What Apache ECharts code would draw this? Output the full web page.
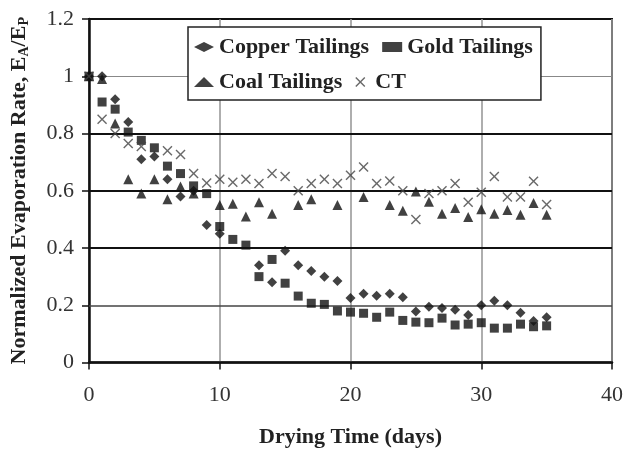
<!DOCTYPE html>
<html>
<head>
<meta charset="utf-8">
<script src="https://cdn.jsdelivr.net/npm/echarts@6/dist/echarts.min.js"></script>
<style>
html,body{margin:0;padding:0;background:#fff;}
#chart{width:624px;height:450px;}
</style>
</head>
<body>
<div id="chart"></div>
<script>
// ---- data ----
const days = [0,1,2,3,4,5,6,7,8,9,10,11,12,13,14,15,16,17,18,19,20,21,22,23,24,25,26,27,28,29,30,31,32,33,34,35];
const copper = [1.00,1.00,0.92,0.84,0.71,0.72,0.64,0.58,0.60,0.48,0.45,null,null,0.34,0.28,0.39,0.34,0.32,0.30,0.285,0.225,0.24,0.233,0.24,0.228,0.178,0.195,0.19,0.184,0.166,0.20,0.216,0.20,0.174,0.145,0.158];
const gold = [1.00,0.91,0.885,0.805,0.776,0.75,0.686,0.66,0.617,0.59,0.475,0.43,0.41,0.30,0.36,0.277,0.232,0.207,0.203,0.18,0.176,0.172,0.158,0.176,0.147,0.141,0.139,0.155,0.131,0.134,0.139,0.12,0.12,0.134,0.125,0.128];
const coal = [1.00,0.99,0.835,0.64,0.59,0.64,0.57,0.615,0.59,null,0.55,0.555,0.51,0.56,0.52,null,0.55,0.57,null,0.55,null,0.578,null,0.55,0.53,0.597,0.562,0.52,0.54,0.508,0.535,0.52,0.533,0.516,0.557,0.516];
const ct = [1.00,0.85,0.80,0.765,0.755,null,0.74,0.727,0.66,0.627,0.64,0.63,0.64,0.625,0.66,0.65,0.60,0.625,0.64,0.625,0.654,0.683,0.625,0.634,0.60,0.50,0.59,0.60,0.625,0.56,0.595,0.65,0.578,0.578,0.633,0.552];
const seriesNames = ['Copper Tailings','Gold Tailings','Coal Tailings','CT'];
const xTicks = [0,10,20,30,40];
const yTicks = [0,0.2,0.4,0.6,0.8,1.0,1.2];
const xTitle = 'Drying Time (days)';

const pairs = (vals) => days.map((d,i)=>[d, vals[i]]).filter(p => p[1] !== null);
const serif = "'Liberation Serif','Times New Roman',serif";
const crossPath = 'path://M0,1 L1,0 L5,4 L9,0 L10,1 L6,5 L10,9 L9,10 L5,6 L1,10 L0,9 L4,5 Z';

const hStyles = {
  0.2: {color:'#444', width:1.5},
  0.4: {color:'#111', width:2.2},
  0.6: {color:'#111', width:2.2},
  0.8: {color:'#111', width:2.2},
  1.0: {color:'#888', width:1.2}
};
const hLines = yTicks.filter(v => v > 0 && v < 1.2).map(v => ({yAxis: v, lineStyle: Object.assign({type:'solid'}, hStyles[v])}));

const chart = echarts.init(document.getElementById('chart'), null, {renderer:'canvas'});
chart.setOption({
  animation: false,
  backgroundColor: '#fff',
  grid: {left: 89, right: 12, top: 19, bottom: 87.5, containLabel: false, outerBoundsMode: 'none',
         show: true, borderColor: '#111', borderWidth: 2, backgroundColor: 'transparent'},
  legend: {
    left: 188, top: 27, width: 360,
    orient: 'horizontal',
    itemWidth: 20, itemHeight: 10, itemGap: 13,
    padding: [9, 8, 7, 6],
    borderColor: '#222', borderWidth: 1.5, backgroundColor: '#fff',
    selectedMode: false,
    textStyle: {fontFamily: serif, fontWeight: 'bold', fontSize: 22, color: '#222'},
    data: [
      {name: seriesNames[0], textStyle: {width: 147}},
      {name: seriesNames[1]},
      {name: seriesNames[2], textStyle: {width: 147}},
      {name: seriesNames[3]}
    ]
  },
  xAxis: {
    type: 'value', min: xTicks[0], max: xTicks[xTicks.length-1], interval: 10,
    name: xTitle, nameLocation: 'middle', nameGap: 64,
    nameTextStyle: {fontFamily: serif, fontWeight: 'bold', fontSize: 22, color: '#222'},
    axisLine: {lineStyle: {color: '#111', width: 2.5}},
    axisTick: {show: true, length: 7, lineStyle: {color: '#111', width: 1.5}},
    axisLabel: {fontFamily: serif, fontSize: 22, color: '#333', margin: 22},
    splitLine: {show: true, lineStyle: {color: '#9a9a9a', width: 1.6}}
  },
  yAxis: {
    type: 'value', min: 0, max: 1.2, interval: 0.2,
    name: 'Normalized Evaporation Rate, E{s|A}/E{s|P}', nameLocation: 'middle', nameGap: 58,
    nameTextStyle: {fontFamily: serif, fontWeight: 'bold', fontSize: 22, color: '#222',
      rich: {s: {fontFamily: serif, fontWeight: 'bold', fontSize: 14, color: '#222', verticalAlign: 'bottom', padding: [10,0,0,0]}}},
    axisLine: {lineStyle: {color: '#111', width: 2.5}},
    axisTick: {show: true, length: 7, lineStyle: {color: '#111', width: 1.5}},
    axisLabel: {fontFamily: serif, fontSize: 22, color: '#333', margin: 15},
    splitLine: {show: false}
  },
  series: [
    {name: '_grid', type: 'scatter', data: [], silent: true,
     markLine: {z: 1, silent: true, symbol: ['none','none'], label: {show: false}, data: hLines}},
    {name: seriesNames[0], type: 'scatter', symbol: 'diamond', symbolSize: 10,
     itemStyle: {color: '#111'}, data: pairs(copper)},
    {name: seriesNames[1], type: 'scatter', symbol: 'rect', symbolSize: 9,
     itemStyle: {color: '#111'}, data: pairs(gold)},
    {name: seriesNames[2], type: 'scatter', symbol: 'triangle', symbolSize: 10,
     itemStyle: {color: '#111'}, data: pairs(coal)},
    {name: seriesNames[3], type: 'scatter', symbol: crossPath, symbolSize: 10,
     itemStyle: {color: '#444'}, data: pairs(ct)}
  ]
});
</script>
</body>
</html>
